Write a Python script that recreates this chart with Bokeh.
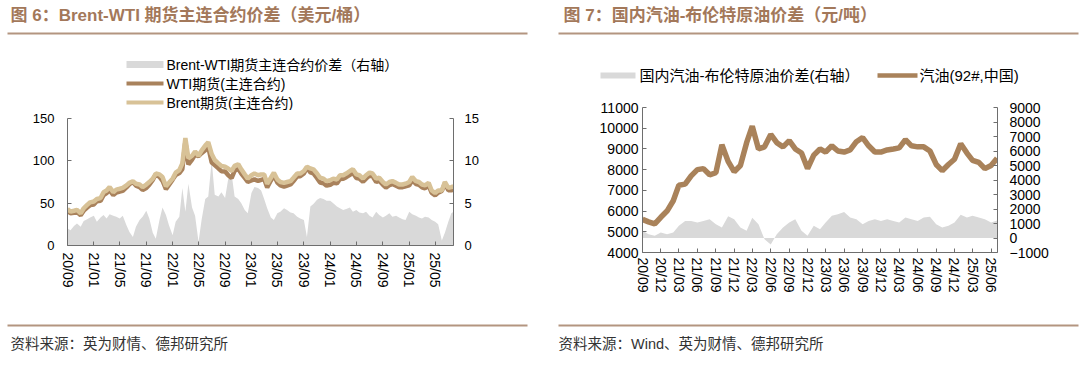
import pandas as pd
from bokeh.plotting import figure
from bokeh.models import Range1d, LinearAxis, FixedTicker, DatetimeTickFormatter
from bokeh.layouts import column, row
from bokeh.embed import file_html
from bokeh.resources import INLINE
from bokeh.core.properties import value

# ---------------- texts ----------------
left_title = "图 6：Brent-WTI 期货主连合约价差（美元/桶）"
right_title = "图 7：国内汽油-布伦特原油价差（元/吨）"
left_source = "资料来源：英为财情、德邦研究所"
right_source = "资料来源：Wind、英为财情、德邦研究所"

left_legend_labels = ["Brent-WTI期货主连合约价差（右轴）", "WTI期货(主连合约)", "Brent期货(主连合约)"]
right_legend_labels = ["国内汽油-布伦特原油价差(右轴）", "汽油(92#,中国)"]

left_tick_labels = ["20/09", "21/01", "21/05", "21/09", "22/01", "22/05", "22/09", "23/01",
                    "23/05", "23/09", "24/01", "24/05", "24/09", "25/01", "25/05"]
right_tick_labels = ["20/09", "20/12", "21/03", "21/06", "21/09", "21/12", "22/03", "22/06",
                     "22/09", "22/12", "23/03", "23/06", "23/09", "23/12", "24/03", "24/06",
                     "24/09", "24/12", "25/03", "25/06"]

# ---------------- left chart data (semi-monthly) ----------------
left_dates = list(pd.date_range("2020-09-01", "2025-07-15", freq="SMS")) + [pd.Timestamp("2025-07-25")]

brent = [
    43, 40, 41, 42, 38, 44, 48, 51,
    52, 55, 56, 63, 65, 69, 63, 66, 67, 68, 71, 74,
    76, 73, 72, 69, 72, 75, 79, 85, 84, 81, 70, 74,
    79, 86, 89, 97, 127, 103, 106, 111, 106, 112, 118, 122,
    108, 101, 97, 94, 93, 91, 88, 94, 96, 90, 84, 79,
    83, 85, 83, 84, 84, 73, 80, 86, 78, 75, 74, 75,
    76, 80, 85, 85, 88, 93, 91, 90, 85, 80, 79, 76,
    77, 79, 78, 83, 83, 85, 88, 90, 84, 83, 79, 83,
    86, 85, 79, 80, 75, 72, 75, 76, 74, 72, 72, 73,
    75, 81, 76, 75, 72, 71, 74, 65, 62, 65, 65, 75, 68, 69, 70,
]

wti = [
    41.0, 38.2, 38.7, 39.4, 35.8, 41.1, 44.9, 47.7,
    48.5, 52.2, 52.7, 59.4, 61.8, 65.3, 59.5, 62.6, 63.8, 64.5, 68.6, 72.4,
    75.0, 70.8, 69.0, 65.6, 67.9, 71.8, 77.5, 84.2, 81.0, 76.5, 66.4, 71.6,
    77.8, 83.2, 85.6, 90.2, 123.0, 95.7, 101.5, 107.5, 105.6, 109.0, 112.5, 116.2,
    98.0, 95.0, 91.2, 87.7, 87.4, 83.2, 79.5, 88.2, 90.5, 85.0, 79.8, 75.2,
    76.8, 78.1, 76.2, 77.5, 78.5, 68.6, 76.7, 83.0, 74.2, 71.0, 69.6, 70.8,
    72.1, 76.2, 81.6, 81.8, 85.0, 92.0, 86.4, 85.1, 79.6, 74.4, 73.5, 70.7,
    71.7, 74.0, 73.4, 78.6, 78.8, 80.7, 83.5, 86.0, 79.8, 79.1, 75.2, 79.0,
    82.5, 81.7, 75.0, 76.4, 71.7, 68.5, 71.2, 72.6, 70.5, 68.7, 68.9, 70.0,
    71.0, 77.3, 72.5, 71.7, 68.8, 67.6, 70.7, 62.0, 59.2, 62.5, 64.4, 73.5, 65.2, 65.2, 66.0,
]

spread = [
    2.0, 1.8, 2.3, 2.6, 2.2, 2.9, 3.1, 3.3,
    3.5, 2.8, 3.3, 3.6, 3.2, 3.7, 3.5, 3.4, 3.2, 3.5, 2.4, 1.6,
    1.0, 2.2, 3.0, 3.4, 4.1, 3.2, 1.5, 0.8, 3.0, 4.5, 3.6, 2.4,
    1.2, 2.8, 3.4, 6.8, 4.0, 7.3, 4.5, 3.5, 0.4, 3.0, 5.5, 5.8,
    10.0, 6.0, 5.8, 6.3, 5.6, 7.8, 8.5, 5.8, 5.5, 5.0, 4.2, 3.8,
    6.2, 6.9, 6.8, 6.5, 5.5, 4.4, 3.3, 3.0, 3.8, 4.0, 4.4, 4.2,
    3.9, 3.8, 3.4, 3.2, 3.0, 1.0, 4.6, 4.9, 5.4, 5.6, 5.5, 5.3,
    5.3, 5.0, 4.6, 4.4, 4.2, 4.3, 4.5, 4.0, 4.2, 3.9, 3.8, 4.0,
    3.5, 3.3, 4.0, 3.6, 3.3, 3.5, 3.8, 3.4, 3.5, 3.3, 3.1, 3.0,
    4.0, 3.7, 3.5, 3.3, 3.2, 3.4, 3.3, 3.0, 2.8, 2.5, 0.6, 1.5, 2.8, 3.8, 4.0,
]

# ---------------- right chart data (monthly) ----------------
right_dates = list(pd.date_range("2020-09-01", "2025-07-01", freq="MS"))

gasoline = [
    5600, 5480, 5380, 5700,
    6000, 6500, 7250, 7300, 7700, 8000, 8050, 7750, 7850, 9200, 8400, 7900,
    8200, 9300, 10100, 9000, 9100, 9700, 9300, 9100, 9400, 9000, 8800, 8050,
    8700, 9000, 8850, 9150, 8900, 8850, 8950, 9350, 9550, 9150, 8850, 8850,
    8950, 9000, 9050, 9450, 9150, 9100, 9100, 8900, 8250, 7950, 8250, 8500,
    9250, 8800, 8450, 8350, 8050, 8200, 8550,
]

gas_brent_spread = [
    500, 260, 150, 380,
    260, 380, 840, 1180, 1180, 1070, 1180, 1300, 950, 720, 1500, 1300,
    720, 500, 1400, 950, -80, -450, 260, 720, 1070, 1300, 500, 150,
    840, 610, 1070, 1530, 1640, 1800, 1410, 1300, 950, 1180, 1300, 1180,
    1300, 1180, 1070, 1410, 1300, 1180, 1410, 1460, 950, 720, 840, 1070,
    1600, 1410, 1530, 1410, 1300, 1070, 1200,
]

left_ticks_y = [0, 50, 100, 150]
left_ticks_y2 = [0, 5, 10, 15]
right_ticks_y = [4000, 5000, 6000, 7000, 8000, 9000, 10000, 11000]
right_ticks_y2 = [-1000, 0, 1000, 2000, 3000, 4000, 5000, 6000, 7000, 8000, 9000]

# ---------------- styles ----------------
FONT = "Liberation Sans, Noto Sans CJK SC"
AXIS_COLOR = "#6e6e6e"
GRAY = "#d9d9d9"
WTI_COLOR = "#a9825c"
BRENT_COLOR = "#d8c297"
GAS_COLOR = "#a9825a"
TITLE_COLOR = "#a3785a"
RULE_COLOR = "#b39580"


def label_to_ms(lbl):
    ts = pd.Timestamp("20" + lbl.replace("/", "-") + "-01")
    return ts.value // 10**6


fmt = DatetimeTickFormatter(years="%y/%m", months="%y/%m", days="%y/%m", hours="%y/%m",
                            minutes="%y/%m", seconds="%y/%m", milliseconds="%y/%m",
                            microseconds="%y/%m", hourmin="%y/%m", minsec="%y/%m")


def style_axis(ax, size, standoff):
    ax.axis_line_color = AXIS_COLOR
    ax.major_tick_line_color = AXIS_COLOR
    ax.major_tick_in = 4
    ax.major_tick_out = 0
    ax.minor_tick_line_color = None
    ax.major_label_text_font = "Liberation Sans"
    ax.major_label_text_font_size = size
    ax.major_label_text_color = "#000000"
    ax.major_label_standoff = standoff


def canvas(width, height, x0, y0):
    # pixel-space figure: data coords == page pixel coords
    c = figure(width=width, height=height, x_range=Range1d(x0, x0 + width),
               y_range=Range1d(y0 + height, y0), x_axis_location=None, y_axis_location=None,
               min_border=0, output_backend="svg", toolbar_location=None)
    c.grid.visible = False
    c.outline_line_color = None
    return c


# ---------------- header ----------------
hd = canvas(1080, 40, 0, 0)
hd.text(x=[10, 563], y=[15, 15], text=[left_title, right_title], text_font=value(FONT),
        text_font_size="17px", text_font_style="bold", text_baseline="middle",
        text_color=TITLE_COLOR)
hd.segment(x0=[7, 558], y0=[33, 33], x1=[527, 1078], y1=[33, 33], line_width=2,
           line_color=RULE_COLOR)

# ---------------- left legend ----------------
lgl = canvas(540, 70, 0, 40)
lgl.segment(x0=[126, 126, 126], y0=[64, 83, 102], x1=[163, 163, 163], y1=[64, 83, 102],
            line_width=[7, 4, 4], line_color=[GRAY, WTI_COLOR, BRENT_COLOR])
lgl.text(x=[166, 166, 166], y=[64, 83, 102], text=left_legend_labels, text_font=value(FONT),
         text_font_size="14px", text_baseline="middle", text_color="#000000")

# ---------------- left chart ----------------
pl = figure(width=540, height=208, x_axis_type="datetime",
            x_range=Range1d(pd.Timestamp("2020-09-01"), pd.Timestamp("2025-07-25")),
            y_range=Range1d(0, 150),
            min_border_left=67, min_border_right=87, min_border_top=8, min_border_bottom=73,
            output_backend="svg", toolbar_location=None)
pl.extra_y_ranges = {"r": Range1d(0, 15)}
pl.add_layout(LinearAxis(y_range_name="r"), "right")
pl.grid.visible = False
pl.outline_line_color = None

pl.varea(x=left_dates, y1=0, y2=spread, y_range_name="r", fill_color=GRAY)
pl.line(left_dates, wti, line_width=4.5, line_color=WTI_COLOR)
pl.line(left_dates, brent, line_width=4.5, line_color=BRENT_COLOR)

pl.xaxis.ticker = FixedTicker(ticks=[label_to_ms(t) for t in left_tick_labels])
pl.xaxis.formatter = fmt
pl.xaxis.major_label_orientation = "vertical"
pl.yaxis[0].ticker = FixedTicker(ticks=left_ticks_y)
pl.yaxis[1].ticker = FixedTicker(ticks=left_ticks_y2)
style_axis(pl.xaxis[0], "14px", 7)
style_axis(pl.yaxis[0], "13px", 13)
style_axis(pl.yaxis[1], "13px", 11)

# ---------------- right legend ----------------
lgr = canvas(540, 55, 540, 40)
lgr.segment(x0=[600, 877], y0=[75, 75], x1=[635, 917], y1=[75, 75],
            line_width=[6, 4.5], line_color=[GRAY, GAS_COLOR])
lgr.text(x=[639, 919], y=[75, 75], text=right_legend_labels, text_font=value(FONT),
         text_font_size="15px", text_baseline="middle", text_color="#000000")

# ---------------- right chart ----------------
pr = figure(width=540, height=223, x_axis_type="datetime",
            x_range=Range1d(pd.Timestamp("2020-09-01"), pd.Timestamp("2025-07-03")),
            y_range=Range1d(4000, 11000),
            min_border_left=102, min_border_right=83, min_border_top=12, min_border_bottom=66,
            output_backend="svg", toolbar_location=None)
pr.extra_y_ranges = {"r": Range1d(-1000, 9000)}
pr.add_layout(LinearAxis(y_range_name="r"), "right")
pr.grid.visible = False
pr.outline_line_color = None

pr.varea(x=right_dates, y1=0, y2=gas_brent_spread, y_range_name="r", fill_color=GRAY)
pr.line(right_dates, gasoline, line_width=5.5, line_color=GAS_COLOR)

pr.xaxis.ticker = FixedTicker(ticks=[label_to_ms(t) for t in right_tick_labels])
pr.xaxis.formatter = fmt
pr.xaxis.major_label_orientation = "vertical"
pr.yaxis[0].ticker = FixedTicker(ticks=right_ticks_y)
pr.yaxis[1].ticker = FixedTicker(ticks=right_ticks_y2)
style_axis(pr.xaxis[0], "14px", 5)
style_axis(pr.yaxis[0], "14px", 4)
style_axis(pr.yaxis[1], "14px", 12)

# ---------------- footer ----------------
ft = canvas(1080, 50, 0, 318)
ft.segment(x0=[7, 558], y0=[325, 325], x1=[527, 1078], y1=[325, 325], line_width=2,
           line_color=RULE_COLOR)
ft.text(x=[10, 558], y=[343, 343], text=[left_source, right_source], text_font=value(FONT),
        text_font_size="14.5px", text_baseline="middle", text_color="#333333")

p = column(hd,
           row(column(row(lgl, spacing=0), pl, spacing=0),
               column(row(lgr, spacing=0), pr, spacing=0), spacing=0),
           ft, spacing=0)

with open("out.html", "w") as f:
    f.write(file_html(p, INLINE))
